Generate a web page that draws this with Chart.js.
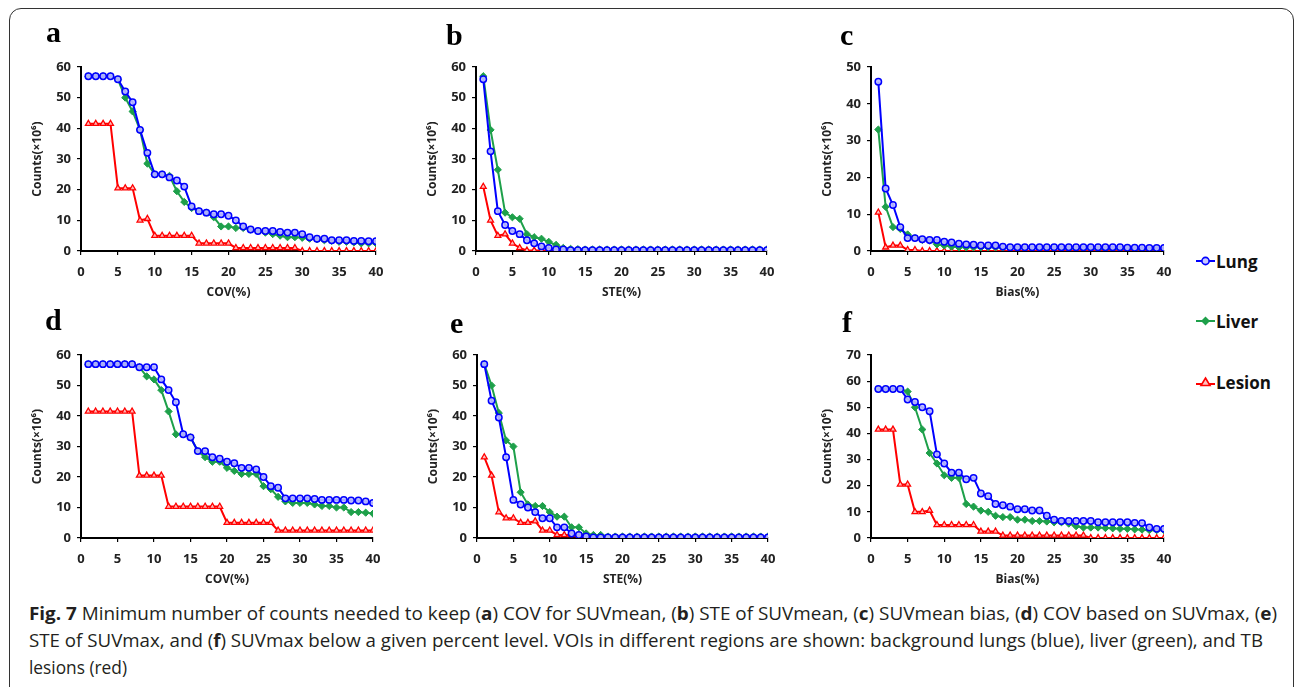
<!DOCTYPE html>
<html><head><meta charset="utf-8">
<script src="https://cdn.jsdelivr.net/npm/chart.js@4.4.1/dist/chart.umd.min.js"></script>
<style>
html,body{margin:0;padding:0;background:#fff;}
body{width:1295px;height:687px;position:relative;overflow:hidden;font-family:'Open Sans',sans-serif;}
.frame{position:absolute;left:9px;top:8px;width:1285px;height:700px;border:1.3px solid #333;border-radius:12px;box-sizing:border-box;}
.cv{position:absolute;}
.lbl{position:absolute;font-family:'Liberation Serif',serif;font-weight:bold;font-size:30px;line-height:30px;color:#000;}
.leg{position:absolute;left:1196px;height:24px;display:flex;align-items:center;font-weight:bold;font-size:17px;color:#111;}
.leg svg{margin-right:1px;}
.cap{position:absolute;left:29px;font-size:18px;line-height:20px;white-space:nowrap;transform-origin:0 0;color:#231f20;}
</style>
</head><body>
<div class="frame"></div>

<canvas id="ca" class="cv"></canvas>
<canvas id="cb" class="cv"></canvas>
<canvas id="cc" class="cv"></canvas>
<canvas id="cd" class="cv"></canvas>
<canvas id="ce" class="cv"></canvas>
<canvas id="cf" class="cv"></canvas>

<div class="lbl" style="left:46px;top:17px">a</div>
<div class="lbl" style="left:446px;top:20px">b</div>
<div class="lbl" style="left:840px;top:20px">c</div>
<div class="lbl" style="left:45px;top:305px">d</div>
<div class="lbl" style="left:450px;top:308px">e</div>
<div class="lbl" style="left:842px;top:307px">f</div>

<div class="leg" style="top:249px"><svg width="19" height="12"><line x1="0" y1="6" x2="19" y2="6" stroke="#0000ff" stroke-width="2"/><circle cx="9.5" cy="6" r="3.6" fill="#c8c8ff" stroke="#0000ff" stroke-width="1.6"/></svg><span>Lung</span></div>
<div class="leg" style="top:309px"><svg width="19" height="12"><line x1="0" y1="6" x2="19" y2="6" stroke="#1ea04a" stroke-width="2"/><polygon points="9.5,1.5 14,6 9.5,10.5 5,6" fill="#1ea04a"/></svg><span>Liver</span></div>
<div class="leg" style="top:370px"><svg width="19" height="12"><line x1="0" y1="8" x2="19" y2="8" stroke="#ff0000" stroke-width="2"/><polygon points="9.5,2 14,9.5 5,9.5" fill="#ffc0c0" stroke="#ff0000" stroke-width="1.6"/></svg><span>Lesion</span></div>

<div class="cap" id="cap1" style="top:603px"><b>Fig. 7</b> Minimum number of counts needed to keep (<b>a</b>) COV for SUVmean, (<b>b</b>) STE of SUVmean, (<b>c</b>) SUVmean bias, (<b>d</b>) COV based on SUVmax, (<b>e</b>)</div>
<div class="cap" id="cap2" style="top:630px">STE of SUVmax, and (<b>f</b>) SUVmax below a given percent level. VOIs in different regions are shown: background lungs (blue), liver (green), and TB</div>
<div class="cap" id="cap3" style="top:657px">lesions (red)</div>

<script>
// x values (percent level)
const pct = [1,2,3,4,5,6,7,8,9,10,11,12,13,14,15,16,17,18,19,20,21,22,23,24,25,26,27,28,29,30,31,32,33,34,35,36,37,38,39,40];
const xTicks = [0,5,10,15,20,25,30,35,40];

// Panel a: COV for SUVmean
const aLung   = [57,57,57,57,56,52,48.5,39.5,32,25,25,24,23,21,14.5,13,12.5,12,12,11.5,10,8,7,6.5,6.5,6.5,6.2,6,6,5.5,4.5,4,4,3.5,3.5,3.5,3.3,3.3,3.2,3.2];
const aLiver  = [57,57,57,57,56,50,45.5,39.5,28.5,25,25,24.5,19.5,16,14,13,12.5,11,8,8,7.5,7.5,7,6.5,6,5.5,5,4.5,4.5,4.3,4,3.8,3.5,3.3,3,3,2.8,2.5,2.5,2.5];
const aLesion = [41.5,41.5,41.5,41.5,20.5,20.5,20.5,10,10.5,5,5,5,5,5,5,2.5,2.5,2.5,2.5,2.5,1,1,1,1,1,1,1,1,1,0,0,0,0,0,0,0,0,0,0,0];

// Panel b: STE of SUVmean
const bLung   = [56,32.5,13,8.5,6.5,5.5,3.5,2.5,1.5,1,0.5,0.5,0.3,0.3,0.3,0.3,0.3,0.3,0.3,0.3,0.3,0.3,0.3,0.3,0.3,0.3,0.3,0.3,0.3,0.3,0.3,0.3,0.3,0.3,0.3,0.3,0.3,0.3,0.3,0.3];
const bLiver  = [57,39.5,26.5,12.5,11,10.5,5.5,4.5,4,3,2,1,0.7,0.6,0.5,0.5,0.5,0.5,0.5,0.5,0.5,0.5,0.5,0.5,0.5,0.5,0.5,0.5,0.5,0.5,0.5,0.5,0.5,0.5,0.5,0.5,0.5,0.5,0.5,0.5];
const bLesion = [21,10,5,5.5,2.5,1,0.2,0.2,0.2,0.2,0.1,0.1,0.1,0.1,0.1,0.1,0,0,0,0,0,0,0,0,0,0,0,0,0,0,0,0,0,0,0,0,0,0,0,0];

// Panel c: SUVmean bias
const cLung   = [46,17,12.5,6.5,3.5,3.5,3.2,3,3,2.5,2.3,2,1.8,1.7,1.5,1.5,1.5,1.2,1,1,1,1,1,1,1,1,1,1,1,1,1,1,1,1,0.9,0.9,0.9,0.8,0.8,0.8];
const cLiver  = [33,12,6.5,6,4.5,3.5,3,2.8,1.8,1.5,1.2,1,1,1,1,1,1,0.9,0.9,0.9,0.8,0.8,0.8,0.8,0.8,0.7,0.7,0.7,0.7,0.7,0.6,0.6,0.6,0.6,0.6,0.5,0.5,0.5,0.5,0.5];
const cLesion = [10.5,1,1.5,1.5,0.3,0.3,0,0,0,0,0,0,0,0,0,0,0,0,0,0,0,0,0,0,0,0,0,0,0,0,0,0,0,0,0,0,0,0,0,0];

// Panel d: COV based on SUVmax
const dLung   = [57,57,57,57,57,57,57,56,56,56,52,48.5,44.5,34,33,28.5,28.5,26.5,26,25,24.5,23,23,22.5,20,17,16.5,13,13,13,13,12.8,12.5,12.5,12.5,12.5,12.3,12.3,12,11.5];
const dLiver  = [57,57,57,57,57,57,57,56,53,52,48.5,41.5,34,34,33,28.5,26.5,25,25,23,22,21,21,21,17,16,13.5,12,11.5,11.5,11.5,11,10.5,10.5,10,10,8.5,8.5,8.3,8];
const dLesion = [41.5,41.5,41.5,41.5,41.5,41.5,41.5,20.5,20.5,20.5,20.5,10.3,10.3,10.3,10.3,10.3,10.3,10.3,10.3,5,5,5,5,5,5,5,2.5,2.5,2.5,2.5,2.5,2.5,2.5,2.5,2.5,2.5,2.5,2.5,2.5,2.5];

// Panel e: STE of SUVmax
const eLung   = [57,45,39.5,26.5,12.5,11,10,8.5,6.5,6.5,3.5,3.5,1.5,1,0.5,0.2,0.2,0.2,0.2,0.2,0.2,0.2,0.2,0.2,0.2,0.2,0.2,0.2,0.2,0.2,0.2,0.2,0.2,0.2,0.2,0.2,0.2,0.2,0.2,0.2];
const eLiver  = [57,50,41,32,30,15,11,10.5,10.5,8.5,7,7,3.5,3.5,1.5,1,1,0.5,0.5,0.5,0.5,0.5,0.5,0.5,0.5,0.5,0.5,0.5,0.5,0.5,0.5,0.5,0.5,0.5,0.5,0.5,0.5,0.5,0.5,0.5];
const eLesion = [26.5,20.5,8.5,6.5,6.5,5,5,5.5,2.5,2.5,1,1,1,1,1,0,0,0,0,0,0,0,0,0,0,0,0,0,0,0,0,0,0,0,0,0,0,0,0,0];

// Panel f: SUVmax bias
const fLung   = [57,57,57,57,53,52,50,48.5,32,28.5,25,25,22.5,23,17,16,13,12.5,12,11,11,10.5,10.5,8.5,7,6.5,6.5,6.5,6.5,6.5,6,6,6,6,6,5.8,5.7,4,3.5,3.5];
const fLiver  = [57,57,57,57,56,50,41.5,32.5,28.5,24,23,23,13,12,10.5,10,8.5,8,8,7,7,6.5,6.5,6.3,6,6,5.5,4.5,4,4,4,3.8,3.7,3.5,3.5,3.3,3.2,3,3,3];
const fLesion = [41.5,41.5,41.5,20.5,20.5,10,10,10.5,5,5,5,5,5,5,2.5,2.5,2.5,1,1,1,1,1,1,1,1,1,1,1,1,0,0,0,0,0,0,0,0,0,0,0];

const yMaxes = {a:60,b:60,c:50,d:60,e:60,f:70};
const xTitles = {a:'COV(%)',b:'STE(%)',c:'Bias(%)',d:'COV(%)',e:'STE(%)',f:'Bias(%)'};
const yTitle = 'Counts(\u00d710\u2076)';
const seriesNames = ['Lung','Liver','Lesion'];

const BLUE='#0000ff', GREEN='#1ea04a', RED='#ff0000';

// plot-area geometry (left, right, top, bottom) of each panel
const geom = {
  a:[81,376,67,251], b:[476,767,67,251], c:[871,1164,67,251],
  d:[81,373,355,538], e:[477,768,355,538], f:[871,1164,355,538]
};
const YW=61, XH=54, PT=25, PR=20;

function pts(arr){ return pct.map((x,i)=>({x:x,y:arr[i]})); }

function makeChart(key, lung, liver, lesion){
  const [L,R,T,B] = geom[key];
  const cv = document.getElementById('c'+key);
  const w = (R+PR)-(L-YW), h = (B+XH)-(T-PT);
  cv.style.left=(L-YW)+'px'; cv.style.top=(T-PT)+'px';
  cv.width=w; cv.height=h; cv.style.width=w+'px'; cv.style.height=h+'px';
  const tickFont={family:'Open Sans',size:13,weight:'bold'};
  const titleFont={family:'Open Sans',size:12,weight:'bold'};
  new Chart(cv,{
    type:'line',
    data:{datasets:[
      {label:seriesNames[0],data:pts(lung),borderColor:BLUE,backgroundColor:'rgba(190,190,255,0.9)',pointBorderColor:BLUE,pointStyle:'circle',pointRadius:3.2,pointBorderWidth:1.5,borderWidth:2,tension:0},
      {label:seriesNames[1],data:pts(liver),borderColor:GREEN,backgroundColor:GREEN,pointBorderColor:GREEN,pointStyle:'rectRot',pointRadius:3.6,pointBorderWidth:1,borderWidth:2,tension:0},
      {label:seriesNames[2],data:pts(lesion),borderColor:RED,backgroundColor:'rgba(255,200,200,0.9)',pointBorderColor:RED,pointStyle:'triangle',pointRadius:3.4,pointBorderWidth:1.3,borderWidth:2,tension:0}
    ]},
    options:{
      responsive:false,animation:false,devicePixelRatio:1,
      layout:{padding:{left:0,top:PT,right:PR,bottom:0}},
      plugins:{legend:{display:false},tooltip:{enabled:false}},
      scales:{
        x:{type:'linear',min:0,max:40,
          afterBuildTicks(s){ s.ticks = xTicks.map(v=>({value:v})); },
          ticks:{font:tickFont,color:'#222',padding:9,maxRotation:0,autoSkip:false},
          grid:{display:true,drawOnChartArea:false,drawTicks:true,tickLength:4,color:'#000',lineWidth:1.2},
          border:{display:true,color:'#000',width:2},
          title:{display:true,text:xTitles[key],font:titleFont,color:'#222',padding:{top:0,bottom:5}},
          afterFit(s){ s.height=XH; }
        },
        y:{type:'linear',min:0,max:yMaxes[key],
          ticks:{stepSize:10,font:tickFont,color:'#222',padding:6},
          grid:{display:true,drawOnChartArea:false,drawTicks:true,tickLength:4,color:'#000',lineWidth:1.2},
          border:{display:true,color:'#000',width:2},
          title:{display:true,text:yTitle,font:titleFont,color:'#222',padding:{top:10,bottom:0}},
          afterFit(s){ s.width=YW; }
        }
      }
    }
  });
}

makeChart('a',aLung,aLiver,aLesion);
makeChart('b',bLung,bLiver,bLesion);
makeChart('c',cLung,cLiver,cLesion);
makeChart('d',dLung,dLiver,dLesion);
makeChart('e',eLung,eLiver,eLesion);
makeChart('f',fLung,fLiver,fLesion);

// fit caption lines to the reference widths
function fit(id, target){
  const el=document.getElementById(id);
  const w=el.getBoundingClientRect().width;
  el.style.transform='scaleX('+(target/w)+')';
}
fit('cap1',1248);
fit('cap2',1234);
fit('cap3',98);
</script>
</body></html>
